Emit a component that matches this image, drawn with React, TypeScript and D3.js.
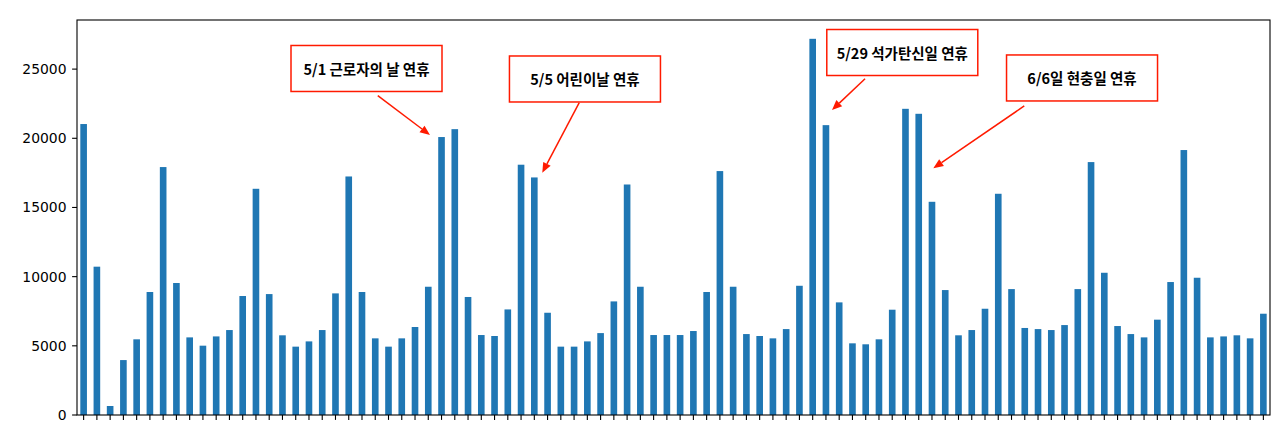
import React from "react";
import * as d3 from "d3";

// ---- data ----
const monthDays: [number, number][] = [[4, 30], [5, 31], [6, 29]];
const categories: string[] = monthDays.flatMap(([m, n]) =>
  Array.from({ length: n }, (_, i) => `${m}/${i + 1}`)
);
const values: number[] = [
  21030, 10720, 650, 3970, 5470, 8890, 17920, 9540, 5610, 5010,
  5680, 6140, 8600, 16350, 8740, 5760, 4940, 5320, 6140, 8790,
  17240, 8890, 5540, 4940, 5540, 6360, 9270, 20090, 20660, 8530,
  5780, 5710, 7630, 18090, 17170, 7390, 4940, 4940, 5320, 5920,
  8210, 16660, 9270, 5780, 5780, 5780, 6070, 8890, 17630, 9270,
  5850, 5710, 5540, 6210, 9340, 27190, 20950, 8140, 5180, 5110,
  5470, 7610, 22130, 21770, 15410, 9030, 5760, 6140, 7680, 15990,
  9100, 6290, 6210, 6140, 6500, 9100, 18280, 10280, 6430, 5850,
  5610, 6890, 9610, 19150, 9920, 5610, 5680, 5760, 5540, 7320,
];
const yTicks: number[] = [0, 5000, 10000, 15000, 20000, 25000];
const annotationTexts: string[] = [
  "5/1 근로자의 날 연휴",
  "5/5 어린이날 연휴",
  "5/29 석가탄신일 연휴",
  "6/6일 현충일 연휴",
];
// annotation placement in data coordinates (index, value)
const boxCenters: [number, number][] = [
  [21.34, 25045], [37.82, 24286], [61.76, 26200], [75.32, 24360],
];
const arrowStarts: [number, number][] = [
  [22.19, 23077], [37.39, 22573], [58.95, 24308], [70.96, 22335],
];
const arrowTips: [number, number][] = [
  [26.13, 20238], [34.6, 17514], [56.46, 22046], [64.1, 17832],
];

export default function App() {
  const W = 1280, H = 426;
  const left = 77, right = 1270, top = 20, bottom = 415;
  const n = values.length;
  const x = d3.scaleLinear().domain([-0.5, n - 0.5]).range([left, right]);
  const yMax = (d3.max(values) as number) * 1.05;
  const y = d3.scaleLinear().domain([0, yMax]).range([bottom, top]);
  const step = x(1) - x(0);
  const bw = step * 0.5;
  const boxW = 151, boxH = 46;
  const red = "#ff1a00";

  return (
    <div style={{ position: "absolute", left: 0, top: 0 }}>
      <svg width={W} height={H} style={{ display: "block", background: "#fff" }}>
        <rect x={0} y={0} width={W} height={H} fill="#fff" />
        {values.map((v, i) => (
          <rect
            key={categories[i]}
            x={x(i) - bw / 2}
            y={y(v)}
            width={bw}
            height={y(0) - y(v)}
            fill="#1f77b4"
          />
        ))}
        {/* spines */}
        <rect x={left} y={top} width={right - left} height={bottom - top} fill="none" stroke="#000" strokeWidth={1.1} />
        {/* y ticks */}
        {yTicks.map((t) => (
          <g key={t}>
            <line x1={left - 4.9} x2={left} y1={y(t)} y2={y(t)} stroke="#000" strokeWidth={1.1} />
            <text
              x={left - 10.5}
              y={y(t)}
              textAnchor="end"
              dominantBaseline="central"
              fontFamily="DejaVu Sans"
              fontSize={13.9}
              fill="#000"
            >
              {t}
            </text>
          </g>
        ))}
        {/* x ticks */}
        {categories.map((c, i) => (
          <line key={c} x1={x(i)} x2={x(i)} y1={bottom} y2={bottom + 4.9} stroke="#000" strokeWidth={1.1} />
        ))}
        {/* annotations */}
        {annotationTexts.map((t, k) => {
          const cx = x(boxCenters[k][0]);
          const cy = y(boxCenters[k][1]);
          const sx = x(arrowStarts[k][0]);
          const sy = y(arrowStarts[k][1]);
          const tx = x(arrowTips[k][0]);
          const ty = y(arrowTips[k][1]);
          const dx = tx - sx, dy = ty - sy;
          const len = Math.hypot(dx, dy);
          const ux = dx / len, uy = dy / len;
          const hl = 10, hw = 4.2;
          const bx = tx - ux * hl, by = ty - uy * hl;
          const px = -uy, py = ux;
          return (
            <g key={t}>
              <rect
                x={cx - boxW / 2}
                y={cy - boxH / 2}
                width={boxW}
                height={boxH}
                fill="#fff"
                stroke={red}
                strokeWidth={1.5}
              />
              <text
                x={cx}
                y={cy}
                textAnchor="middle"
                dominantBaseline="central"
                fontFamily="'Noto Sans CJK KR', 'Noto Sans', sans-serif"
                fontWeight={700}
                fontSize={14.5}
                fill="#000"
              >
                {t}
              </text>
              <line x1={sx} y1={sy} x2={bx} y2={by} stroke={red} strokeWidth={1.5} />
              <polygon
                points={`${tx},${ty} ${bx + px * hw},${by + py * hw} ${bx - px * hw},${by - py * hw}`}
                fill={red}
              />
            </g>
          );
        })}
      </svg>
    </div>
  );
}
